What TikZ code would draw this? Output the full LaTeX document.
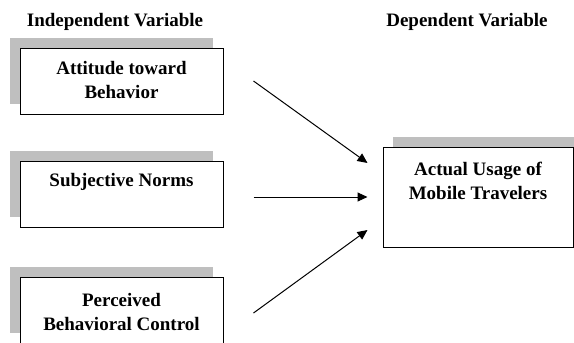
\documentclass[tikz,border=0pt]{standalone}
\usepackage{fontspec}
\setmainfont{Liberation Serif}
\usetikzlibrary{shadows,arrows.meta}
\tikzset{
	varbox/.style={draw, line width=1pt, fill=white, inner sep=0pt, minimum width=203pt, minimum height=66pt},
	leftshadow/.style={drop shadow={shadow xshift=-10pt, shadow yshift=10pt, fill=black!25, opacity=1}},
	rightshadow/.style={drop shadow={shadow xshift=10pt, shadow yshift=10pt, fill=black!25, opacity=1}},
	vartext/.style={font=\fontsize{19}{24}\selectfont\bfseries, align=center, inner sep=0pt, anchor=north},
	vartitle/.style={font=\fontsize{19}{24}\selectfont\bfseries, inner sep=0pt, anchor=base},
	arr/.style={line width=1pt, -{Triangle[length=10pt, width=9pt]}}
}

\begin{document}
\begin{tikzpicture}[x=1pt, y=-1pt]
			%%%%% START %%%%%
			\useasboundingbox (0, 0) rectangle (574, 343);
			
			\node[vartitle] (indep) at (115, 26) {Independent Variable};
			\node[vartitle] (dep) at (467, 26) {Dependent Variable};
			
			\node[varbox, leftshadow] (att) at (121.5, 81) {};
			\node[vartext] (atttxt) at ([yshift=-14pt]att.north) {Attitude toward\\Behavior};
			
			\node[varbox, leftshadow] (sub) at (121.5, 194) {};
			\node[vartext] (subtxt) at ([yshift=-13pt]sub.north) {Subjective Norms};
			
			\node[varbox, leftshadow] (pbc) at (121.5, 310) {};
			\node[vartext] (pbctxt) at ([yshift=-17pt]pbc.north) {Perceived\\Behavioral Control};
			
			\node[varbox, rightshadow, minimum width=190pt, minimum height=100pt] (use) at (478, 197) {};
			\node[vartext] (usetxt) at ([yshift=-15pt]use.north) {Actual Usage of\\Mobile Travelers};
			
			\draw[arr] ([xshift=30pt]att.east) -- ([xshift=-15pt, yshift=34pt]use.west);
			\draw[arr] ([xshift=30pt]sub.east |- use.west) -- ([xshift=-15pt]use.west);
			\draw[arr] ([xshift=30pt, yshift=-3pt]pbc.east) -- ([xshift=-15pt, yshift=-33pt]use.west);
			
			%%%%% END %%%%%
\end{tikzpicture}
\end{document}
